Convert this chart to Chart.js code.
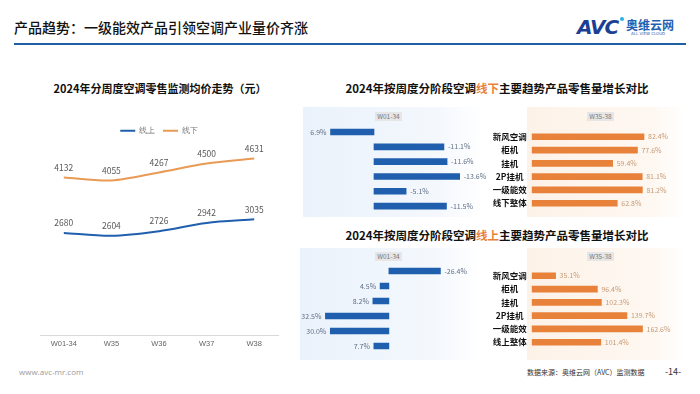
<!DOCTYPE html>
<html>
<head>
<meta charset="utf-8">
<script src="https://cdn.jsdelivr.net/npm/chart.js@4.4.0/dist/chart.umd.min.js"></script>
<style>
  body { margin: 0; width: 700px; height: 394px; background: #fff; position: relative; overflow: hidden;
         font-family: "Noto Sans CJK SC", "Noto Sans", sans-serif; }
  .abs { position: absolute; }
  .title { font-weight: 700; color: #111; text-align: center; white-space: nowrap; }
  .box { font-size: 6.5px; color: #777; background: #e6e6e6; text-align: center; line-height: 9px; height: 9px; width: 27px; }
  canvas { position: absolute; }
</style>
</head>
<body>
<div class="abs" style="left:14px;top:17px;font-size:14px;font-weight:500;color:#111;">产品趋势：一级能效产品引领空调产业量价齐涨</div>
<div class="abs" style="left:14px;top:43px;width:672px;height:2px;background:#1f5fa6;"></div>
<div class="abs" style="left:577px;top:15px;font-family:'DejaVu Sans';font-size:20px;font-weight:700;font-style:italic;color:#1c3f94;letter-spacing:-1px;">AVC</div>
<div class="abs" style="left:620px;top:17px;width:4px;height:4px;border-radius:2px;background:#27b3e6;"></div>
<div class="abs" style="left:626px;top:16px;font-size:12px;font-weight:700;color:#1f5fb2;">奥维云网</div>
<div class="abs" style="left:631px;top:31px;font-size:4px;color:#1f5fb2;font-family:'DejaVu Sans';">ALL VIEW CLOUD</div>

<div class="abs title" style="left:20px;top:80px;width:280px;font-size:11px;">2024年分周度空调零售监测均价走势（元）</div>
<div class="abs title" style="left:297px;top:80px;width:400px;font-size:11.5px;">2024年按周度分阶段空调<span style="color:#e8823a;">线下</span>主要趋势产品零售量增长对比</div>
<div class="abs title" style="left:297px;top:227px;width:400px;font-size:11.5px;">2024年按周度分阶段空调<span style="color:#e8823a;">线上</span>主要趋势产品零售量增长对比</div>

<div class="abs" style="left:303px;top:107px;width:180px;height:110px;background:linear-gradient(to right,#eaf2fb,#f4f8fd 75%,#fff);"></div>
<div class="abs" style="left:527px;top:107px;width:158px;height:110px;background:linear-gradient(to right,#fdf2e8,#fef8f2 80%,#fff);"></div>
<div class="abs" style="left:300px;top:248px;width:180px;height:112px;background:linear-gradient(to right,#eaf2fb,#f4f8fd 75%,#fff);"></div>
<div class="abs" style="left:527px;top:248px;width:158px;height:112px;background:linear-gradient(to right,#fdf2e8,#fef8f2 80%,#fff);"></div>
<div class="abs box" style="left:375px;top:112px;">W01-34</div>
<div class="abs box" style="left:587px;top:112px;">W35-38</div>
<div class="abs box" style="left:375px;top:252px;">W01-34</div>
<div class="abs box" style="left:587px;top:252px;">W35-38</div>

<div class="abs" style="left:19px;top:366px;font-size:8px;color:#9a9a9a;font-family:'Open Sans';">www.avc-mr.com</div>
<div class="abs" style="left:527px;top:367px;font-size:7px;color:#333;">数据来源：奥维云网（AVC）监测数据</div>
<div class="abs" style="left:665px;top:365px;font-size:9px;color:#333;">-14-</div>

<canvas id="priceChart" width="280" height="233" style="left:20px;top:119px;"></canvas>
<canvas id="offEarly" width="200" height="100" style="left:300px;top:120px;"></canvas>
<canvas id="offLate" width="200" height="100" style="left:486px;top:120px;"></canvas>
<canvas id="onEarly" width="200" height="100" style="left:300px;top:259px;"></canvas>
<canvas id="onLate" width="200" height="100" style="left:486px;top:259px;"></canvas>

<script>
// data
const weeks = ["W01-34", "W35", "W36", "W37", "W38"];
const onlinePrice = [2680, 2604, 2726, 2942, 3035];
const offlinePrice = [4132, 4055, 4267, 4500, 4631];

const offlineCats = ["新风空调", "柜机", "挂机", "2P挂机", "一级能效", "线下整体"];
const onlineCats = ["新风空调", "柜机", "挂机", "2P挂机", "一级能效", "线上整体"];
const offlineW0134 = [6.9, -11.1, -11.6, -13.6, -5.1, -11.5];
const offlineW3538 = [82.4, 77.6, 59.4, 81.1, 81.2, 62.8];
const onlineW0134 = [-26.4, 4.5, 8.2, 32.5, 30.0, 7.7];
const onlineW3538 = [35.1, 96.4, 102.3, 139.7, 162.6, 101.4];

const BLUE = "#1f5fae";
const ORANGE = "#e8823a";
const CJK = '"Noto Sans CJK SC"';

// draws the value next to each point / bar end
const valueLabels = {
    id: "valueLabels",
    afterDatasetsDraw(chart, args, opts) {
        const ctx = chart.ctx;
        ctx.save();
        ctx.font = opts.font;
        ctx.fillStyle = opts.color;
        ctx.textBaseline = "middle";
        chart.data.datasets.forEach((ds, i) => {
            chart.getDatasetMeta(i).data.forEach((el, j) => {
                const v = ds.data[j];
                if (chart.config.type === "line") {
                    ctx.textAlign = "center";
                    ctx.fillText(String(v), el.x, el.y - 10);
                } else {
                    const txt = v.toFixed(1) + "%";
                    if (el.x < el.base) {
                        ctx.textAlign = "right";
                        ctx.fillText(txt, el.x - 4, el.y);
                    } else {
                        ctx.textAlign = "left";
                        ctx.fillText(txt, el.x + 4, el.y);
                    }
                }
            });
        });
        ctx.restore();
    },
};

new Chart(document.getElementById("priceChart"), {
    type: "line",
    data: {
        labels: weeks,
        datasets: [
            { label: "线上", data: onlinePrice, borderColor: BLUE, backgroundColor: BLUE, borderWidth: 2, pointRadius: 0, tension: 0.3, pointStyle: "line" },
            { label: "线下", data: offlinePrice, borderColor: "#e99a55", backgroundColor: "#e99a55", borderWidth: 2, pointRadius: 0, tension: 0.3, pointStyle: "line" },
        ],
    },
    options: {
        responsive: false,
        animation: false,
        layout: { padding: { left: 20, right: 22, top: 0 } },
        scales: {
            x: {
                offset: true,
                grid: { display: false, drawTicks: false },
                border: { color: "#d9d9d9" },
                ticks: { color: "#666", font: { size: 7.5 }, padding: 4 },
            },
            y: { display: false, min: 0, max: 5000 },
        },
        plugins: {
            legend: {
                position: "top",
                labels: { usePointStyle: true, pointStyleWidth: 15, color: "#777", font: { size: 7.5 }, padding: 8, boxHeight: 7 },
            },
            tooltip: { enabled: false },
            valueLabels: { font: "8.5px " + CJK, color: "#595959" },
        },
    },
    plugins: [valueLabels],
});

function growthChart(id, cats, values, color, opts) {
    const showCats = opts.showCats;
    return new Chart(document.getElementById(id), {
        type: "bar",
        data: {
            labels: cats,
            datasets: [{ data: values, backgroundColor: color, barThickness: 6 }],
        },
        options: {
            indexAxis: "y",
            responsive: false,
            animation: false,
            layout: { padding: opts.padding },
            scales: {
                x: { display: false, min: opts.min, max: opts.max, reverse: !!opts.reverse },
                y: showCats
                    ? {
                          grid: { display: false, drawTicks: false },
                          border: { display: false },
                          ticks: { color: "#111", crossAlign: "center", padding: 5, font: { size: 8.5, weight: "bold", family: CJK } },
                          afterFit: (axis) => { axis.width = 45.7; },
                      }
                    : { display: false },
            },
            plugins: {
                legend: { display: false },
                tooltip: { enabled: false },
                valueLabels: { font: "7px " + CJK, color: opts.labelColor },
            },
        },
        plugins: [valueLabels],
    });
}

growthChart("offEarly", offlineCats, offlineW0134, BLUE, {
    min: -15, max: 10, reverse: true, labelColor: "#5f6f86",
    padding: { left: 11, right: 31.5, top: 4.6, bottom: 6.5 },
});
growthChart("offLate", offlineCats, offlineW3538, ORANGE, {
    min: 0, max: 100, showCats: true, labelColor: "#c79a75",
    padding: { left: 0, right: 18, top: 4.6, bottom: 6.5 },
});
growthChart("onEarly", onlineCats, onlineW0134, BLUE, {
    min: -40, max: 45, reverse: true, labelColor: "#5f6f86",
    padding: { left: 1, right: 33, top: 4.5, bottom: 5.5 },
});
growthChart("onLate", onlineCats, onlineW3538, ORANGE, {
    min: 0, max: 200, showCats: true, labelColor: "#c79a75",
    padding: { left: 0, right: 18, top: 4.5, bottom: 5.5 },
});
</script>
</body>
</html>
